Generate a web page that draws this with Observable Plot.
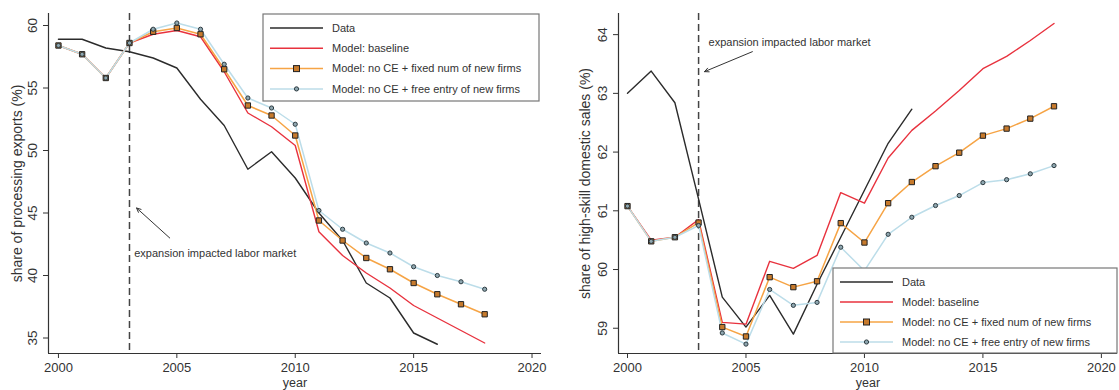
<!DOCTYPE html>
<html><head><meta charset="utf-8">
<script src="https://cdn.jsdelivr.net/npm/d3@7"></script>
<script src="https://cdn.jsdelivr.net/npm/@observablehq/plot@0.6"></script>
<style>
body{margin:0;background:#fff;font-family:"Liberation Sans",Arial,sans-serif}
#wrap{display:flex;width:1119px;height:390px;overflow:hidden}
</style></head><body><div id="wrap"></div>
<script>
// ---------- data ----------
const years = d3.range(2000, 2019);           // model years 2000-2018
const dataYearsL = d3.range(2000, 2017);      // data years, left panel
const dataYearsR = d3.range(2000, 2013);      // data years, right panel

// Left panel: share of processing exports (%)
const leftData     = [58.9, 58.9, 58.2, 57.9, 57.4, 56.6, 54.1, 52.0, 48.5, 49.9, 47.8, 45.0, 42.8, 39.4, 38.2, 35.4, 34.5];
const leftBaseline = [58.4, 57.7, 55.8, 58.6, 59.3, 59.6, 59.1, 56.3, 53.0, 51.9, 50.4, 43.5, 41.6, 40.2, 39.0, 37.6, 36.6, 35.6, 34.6];
const leftFixed    = [58.4, 57.7, 55.8, 58.6, 59.5, 59.8, 59.3, 56.5, 53.6, 52.8, 51.2, 44.4, 42.8, 41.4, 40.5, 39.4, 38.5, 37.7, 36.9];
const leftFree     = [58.4, 57.7, 55.8, 58.6, 59.7, 60.2, 59.7, 56.9, 54.2, 53.4, 52.1, 45.2, 43.7, 42.6, 41.8, 40.7, 40.0, 39.5, 38.9];

// Right panel: share of high-skill domestic sales (%)
const rightData     = [63.0, 63.38, 62.84, 61.2, 59.53, 59.02, 59.56, 58.9, 59.75, 60.55, 61.35, 62.15, 62.73];
const rightBaseline = [61.08, 60.5, 60.55, 60.85, 59.1, 59.07, 60.14, 60.02, 60.24, 61.31, 61.13, 61.9, 62.37, 62.7, 63.05, 63.42, 63.63, 63.9, 64.19];
const rightFixed    = [61.08, 60.48, 60.55, 60.8, 59.02, 58.86, 59.87, 59.7, 59.8, 60.79, 60.46, 61.13, 61.49, 61.76, 61.99, 62.28, 62.4, 62.57, 62.78];
const rightFree     = [61.08, 60.48, 60.55, 60.75, 58.92, 58.73, 59.66, 59.39, 59.44, 60.38, 59.98, 60.6, 60.89, 61.09, 61.26, 61.48, 61.53, 61.63, 61.77];

const xTicks = [2000, 2005, 2010, 2015, 2020];
const leftYTicks = [35, 40, 45, 50, 55, 60];
const rightYTicks = [59, 60, 61, 62, 63, 64];
const eventYear = 2003;
const seriesNames = ["Data", "Model: baseline", "Model: no CE + fixed num of new firms", "Model: no CE + free entry of new firms"];
const annText = "expansion impacted labor market";
const leftAnn  = {tx: 2003.2, ty: 41.8, x1: 2004.7, y1: 43.0, x2: 2003.3, y2: 45.4};
const rightAnn = {tx: 2003.42, ty: 63.86, x1: 2005.27, y1: 63.71, x2: 2003.25, y2: 63.37};

// ---------- styles ----------
const colors = {data: "#2b2b2b", base: "#e8323e", fixed: "#f6a445", free: "#bcdde9"};
const FONT = "'Liberation Sans', Arial, sans-serif";

function zip(xs, ys) { return ys.map((v, i) => ({x: xs[i], y: v})); }

function panel(cfg) {
  const d = zip(cfg.dataYears, cfg.data), b = zip(years, cfg.base), f = zip(years, cfg.fixed), e = zip(years, cfg.free);
  const x0 = cfg.xDomain[0], y0 = cfg.yDomain[0];
  const svg = Plot.plot({
    width: cfg.width, height: 390,
    marginLeft: cfg.ml, marginRight: cfg.mr, marginTop: 13, marginBottom: 37,
    style: {fontFamily: FONT, fontSize: "13px", color: "#333", background: "white"},
    x: {domain: cfg.xDomain},
    y: {domain: cfg.yDomain},
    marks: [
      Plot.axisX({ticks: xTicks, tickFormat: "d", tickSize: 5, tickPadding: 4, fontSize: 13, label: null, stroke: "#333"}),
      Plot.axisY({ticks: cfg.yTicks, tickFormat: () => "", tickSize: 5, label: null, stroke: "#333"}),
      Plot.text(cfg.yTicks, {x: x0, y: dd => dd, text: dd => String(dd), rotate: -90, dx: -16, fontSize: 13.5, fill: "#333"}),
      Plot.text([cfg.yLabel], {frameAnchor: "left", textAnchor: "middle", rotate: -90, dx: cfg.titleDx, fontSize: 14, fill: "#333"}),
      Plot.text(["year"], {frameAnchor: "bottom", textAnchor: "middle", dy: 33, fontSize: 12.5, fill: "#333"}),
      Plot.ruleX([x0], {stroke: "#333", strokeWidth: 1.2}),
      Plot.ruleY([y0], {stroke: "#333", strokeWidth: 1.2}),
      Plot.ruleX([eventYear], {stroke: "#444", strokeWidth: 1.5, strokeDasharray: "7,4"}),
      Plot.line(d, {x: "x", y: "y", stroke: colors.data, strokeWidth: 1.4}),
      Plot.line(b, {x: "x", y: "y", stroke: colors.base, strokeWidth: 1.4}),
      Plot.line(f, {x: "x", y: "y", stroke: colors.fixed, strokeWidth: 1.5}),
      Plot.line(e, {x: "x", y: "y", stroke: colors.free, strokeWidth: 1.5}),
      Plot.dot(f, {x: "x", y: "y", symbol: "square", r: 3, fill: "#c77a2c", stroke: "#222", strokeWidth: 1}),
      Plot.dot(e, {x: "x", y: "y", r: 2.1, fill: "#8fa7b0", stroke: "#2c3a40", strokeWidth: 1}),
      Plot.arrow([cfg.ann], {x1: "x1", y1: "y1", x2: "x2", y2: "y2", stroke: "#333", strokeWidth: 1, headLength: 7, headAngle: 50}),
      Plot.text([cfg.ann], {x: "tx", y: "ty", text: () => annText, textAnchor: "start", fontSize: 11, fill: "#333"})
    ]
  });
  // legend
  const L = cfg.legend;
  const g = d3.select(svg).append("g").attr("font-family", FONT).attr("font-size", 11).attr("text-anchor", "start");
  g.append("rect").attr("x", L.x).attr("y", L.y).attr("width", L.w).attr("height", L.h)
    .attr("fill", "white").attr("stroke", "#777").attr("stroke-width", 1.2);
  const cols = [colors.data, colors.base, colors.fixed, colors.free];
  seriesNames.forEach((name, i) => {
    const yy = L.y + 14 + i * L.dy;
    g.append("line").attr("x1", L.x + 7).attr("x2", L.x + 60).attr("y1", yy).attr("y2", yy)
      .attr("stroke", cols[i]).attr("stroke-width", 1.5);
    if (i === 2) g.append("rect").attr("x", L.x + 30.5).attr("y", yy - 3).attr("width", 6).attr("height", 6)
      .attr("fill", "#c77a2c").attr("stroke", "#222");
    if (i === 3) g.append("circle").attr("cx", L.x + 33.5).attr("cy", yy).attr("r", 2.1)
      .attr("fill", "#8fa7b0").attr("stroke", "#2c3a40");
    g.append("text").attr("x", L.x + 69).attr("y", yy).attr("dy", "0.35em").attr("text-anchor", "start")
      .attr("fill", "#333").text(name);
  });
  return svg;
}

const wrap = document.getElementById("wrap");
wrap.append(panel({
  width: 560, ml: 48, mr: 19, xDomain: [1999.58, 2020.4], yDomain: [33.76, 60.96], yTicks: leftYTicks, titleDx: -31,
  yLabel: "share of processing exports (%)", dataYears: dataYearsL,
  data: leftData, base: leftBaseline, fixed: leftFixed, free: leftFree, ann: leftAnn,
  legend: {x: 263, y: 14, w: 276, h: 87, dy: 20.3}
}));
wrap.append(panel({
  width: 559, ml: 58, mr: 2, xDomain: [1999.62, 2020.68], yDomain: [58.57, 64.36], yTicks: rightYTicks, titleDx: -33,
  yLabel: "share of high-skill domestic sales (%)", dataYears: dataYearsR,
  data: rightData, base: rightBaseline, fixed: rightFixed, free: rightFree, ann: rightAnn,
  legend: {x: 273, y: 268, w: 284, h: 85, dy: 20}
}));
</script></body></html>
